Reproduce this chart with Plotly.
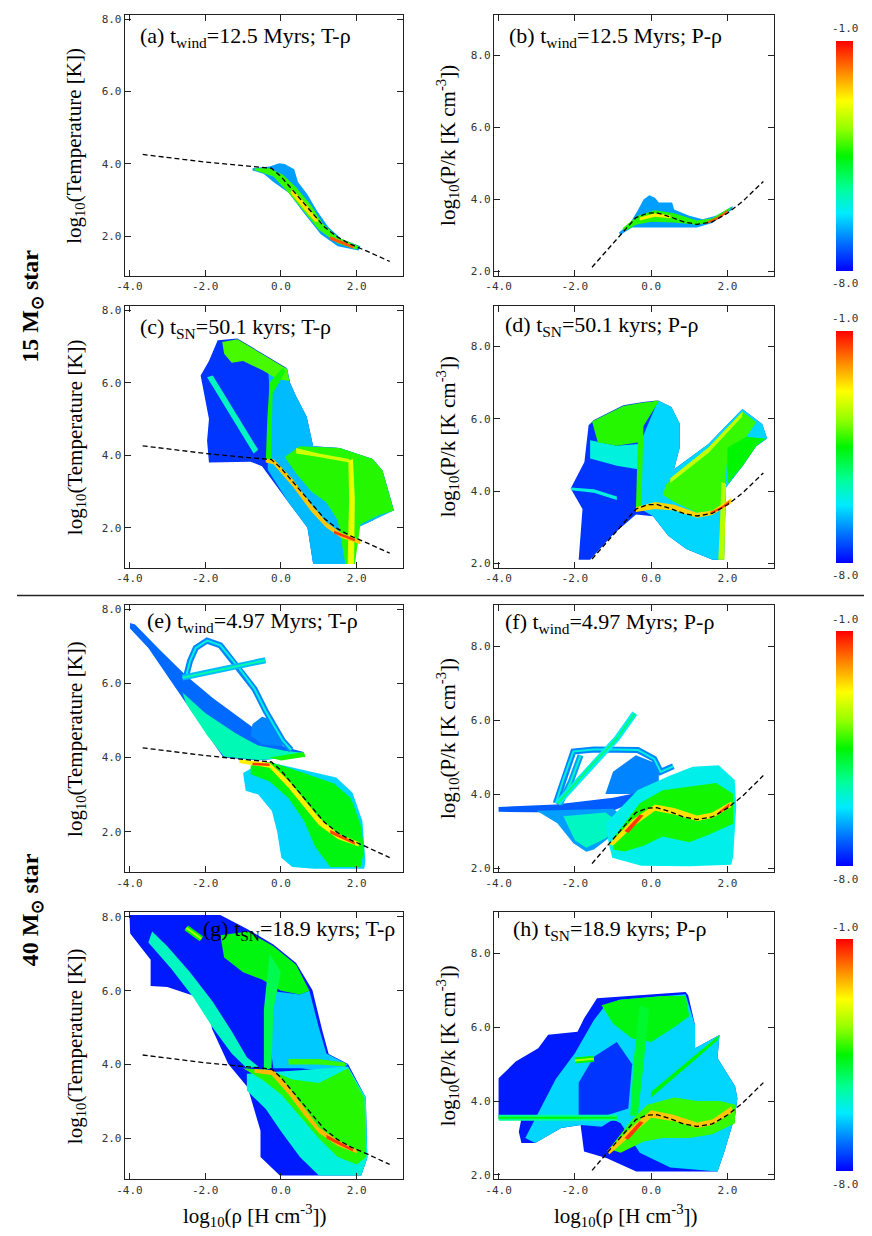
import plotly.graph_objects as go
from plotly.colors import sample_colorscale

# colour table of the density maps (log10 of mass fraction)
JET = [[0.0, 'rgb(0,0,255)'], [0.12, 'rgb(0,110,255)'], [0.25, 'rgb(0,235,255)'],
       [0.36, 'rgb(0,255,150)'], [0.5, 'rgb(0,245,0)'], [0.62, 'rgb(150,255,0)'],
       [0.74, 'rgb(255,255,0)'], [0.87, 'rgb(255,130,0)'], [1.0, 'rgb(255,0,0)']]
CMIN, CMAX = -8.0, -1.0

# equilibrium curves (dashed)
EQ_T_RHO = [-3.65, -2.0, -1.0, -0.25, 0.0, 0.25, 0.65, 1.15, 1.5, 1.85, 2.3, 2.87]
EQ_T = [4.26, 4.05, 3.95, 3.88, 3.65, 3.35, 2.85, 2.25, 1.97, 1.77, 1.57, 1.3]
EQ_P_RHO = [-1.55, -1.1, -0.7, -0.4, -0.1, 0.15, 0.5, 0.85, 1.2, 1.6, 2.0, 2.4, 2.94]
EQ_P = [2.12, 2.67, 3.15, 3.5, 3.62, 3.63, 3.52, 3.38, 3.31, 3.38, 3.62, 3.95, 4.5]

X_TICKS = [-4, -2, 0, 2]
X_TICK_TEXT = ['-4.0', '-2.0', '0.0', '2.0']
Y_TICKS = [2, 4, 6, 8]
Y_TICK_TEXT = ['2.0', '4.0', '6.0', '8.0']

PANEL_TITLES = [
    '(a) t<sub>wind</sub>=12.5 Myrs; T-ρ', '(b) t<sub>wind</sub>=12.5 Myrs; P-ρ',
    '(c) t<sub>SN</sub>=50.1 kyrs; T-ρ', '(d) t<sub>SN</sub>=50.1 kyrs; P-ρ',
    '(e) t<sub>wind</sub>=4.97 Myrs; T-ρ', '(f) t<sub>wind</sub>=4.97 Myrs; P-ρ',
    '(g) t<sub>SN</sub>=18.9 kyrs; T-ρ', '(h) t<sub>SN</sub>=18.9 kyrs; P-ρ',
]
STAR_LABELS = ['15 M<sub>⊙</sub> star', '40 M<sub>⊙</sub> star']
CBAR_LABELS = ['-1.0', '-8.0']
T_TITLE = 'log<sub>10</sub>(Temperature [K])'
P_TITLE = 'log<sub>10</sub>(P/k [K cm<sup>-3</sup>])'
RHO_TITLE = 'log<sub>10</sub>(ρ [H cm<sup>-3</sup>])'

# regions of the phase diagrams: (log10 mass fraction, outline [(log rho, log T or log P)])
REGIONS_A = [
    (-6.8, [(-0.75, 3.88), (-0.3, 3.93), (-0.05, 4.02), (0.1, 4.0), (0.35, 3.85), (0.45, 3.5),
            (0.7, 3.15), (0.95, 2.7), (1.25, 2.25), (1.6, 1.92), (2.1, 1.72), (2.05, 1.6),
            (1.5, 1.72), (1.05, 2.05), (0.6, 2.65), (0.2, 3.2), (-0.2, 3.5), (-0.45, 3.72),
            (-0.75, 3.82)]),
    (-4.2, [(-0.7, 3.88), (-0.3, 3.88), (0.05, 3.7), (0.4, 3.35), (0.8, 2.85), (1.1, 2.35),
            (1.5, 1.97), (2.05, 1.72), (2.0, 1.63), (1.5, 1.8), (1.0, 2.18), (0.6, 2.7),
            (0.2, 3.2), (-0.2, 3.65), (-0.7, 3.83)]),
    (-2.6, [(0.3, 3.3), (0.7, 2.85), (1.0, 2.4), (0.9, 2.4), (0.6, 2.75), (0.25, 3.2)]),
    (-1.6, [(1.3, 2.0), (1.9, 1.74), (1.9, 1.66), (1.3, 1.9)]),
]
REGIONS_B = [
    (-6.8, [(-0.85, 3.08), (-0.55, 3.35), (-0.35, 3.7), (-0.2, 4.0), (-0.05, 4.12), (0.1, 4.05),
            (0.2, 3.92), (0.55, 3.92), (0.6, 3.72), (1.0, 3.55), (1.35, 3.45), (1.7, 3.55),
            (2.15, 3.82), (2.1, 3.7), (1.6, 3.35), (1.2, 3.22), (0.6, 3.22), (0.0, 3.22),
            (-0.5, 3.22), (-0.8, 3.02)]),
    (-4.3, [(-0.75, 3.2), (-0.35, 3.55), (0.1, 3.7), (0.6, 3.62), (1.2, 3.42), (1.6, 3.48),
            (2.1, 3.8), (2.05, 3.7), (1.6, 3.38), (1.2, 3.3), (0.6, 3.36), (0.0, 3.38),
            (-0.4, 3.3), (-0.7, 3.12)]),
    (-2.7, [(-0.3, 3.5), (0.1, 3.62), (0.5, 3.56), (0.5, 3.48), (0.1, 3.52), (-0.3, 3.42)]),
    (-1.6, [(1.45, 3.38), (1.75, 3.52), (2.02, 3.72), (2.0, 3.63), (1.72, 3.44), (1.45, 3.32)]),
]
REGIONS_C = [
    (-7.6, [(-2.12, 6.2), (-1.9, 6.6), (-1.67, 7.17), (-1.15, 7.22), (-0.4, 6.75), (0.16, 6.4),
            (0.24, 6.0), (0.39, 5.65), (0.68, 5.06), (0.81, 4.5), (0.85, 4.25), (1.55, 4.2),
            (2.42, 3.9), (2.68, 3.58), (2.98, 2.48), (2.7, 2.4), (2.42, 2.2), (2.0, 2.0),
            (1.95, 1.0), (0.85, 1.0), (0.7, 2.0), (0.2, 2.7), (-0.5, 3.7), (-0.8, 3.82),
            (-1.9, 3.8), (-1.95, 4.4), (-1.9, 5.0)]),
    (-6.6, [(-0.35, 3.85), (-0.28, 5.5), (-0.35, 6.5), (0.16, 6.4), (0.24, 6.0), (0.39, 5.65),
            (0.68, 5.06), (0.81, 4.5), (0.85, 4.25), (1.55, 4.2), (2.42, 3.9), (2.68, 3.58),
            (2.98, 2.48), (2.42, 2.2), (2.0, 2.0), (1.95, 1.0), (0.85, 1.0), (0.7, 2.0),
            (0.2, 2.7), (-0.35, 3.6)]),
    (-5.8, [(-1.95, 6.15), (-1.8, 6.2), (-0.6, 4.15), (-0.72, 4.05)]),
    (-4.1, [(-1.55, 7.12), (-1.15, 7.2), (-0.4, 6.73), (0.16, 6.38), (0.22, 6.05), (-0.1, 6.1),
            (-0.5, 6.35), (-1.0, 6.6), (-1.3, 6.55), (-1.5, 6.8)]),
    (-4.3, [(0.1, 3.95), (0.5, 4.25), (1.55, 4.2), (2.42, 3.9), (2.68, 3.58), (2.98, 2.48),
            (2.6, 2.35), (2.1, 2.1), (1.95, 1.0), (1.7, 1.0), (1.5, 2.2), (1.2, 2.7), (0.8, 3.0),
            (0.4, 3.5)]),
    (-4.4, [(-0.4, 3.85), (-0.26, 3.88), (-0.22, 5.7), (0.12, 6.3), (0.05, 6.42), (-0.3, 6.0),
            (-0.36, 5.0)]),
    (-3.2, [(0.4, 4.2), (1.0, 4.05), (1.8, 3.9), (1.8, 3.8), (1.0, 3.95), (0.4, 4.05)]),
    (-3.0, [(1.76, 1.0), (1.93, 1.0), (1.95, 2.8), (1.9, 3.9), (1.78, 3.85), (1.8, 2.8)]),
    (-2.4, [(-0.4, 3.9), (-0.2, 3.9), (0.3, 3.35), (0.8, 2.65), (1.2, 2.15), (1.6, 1.85),
            (2.1, 1.66), (2.1, 1.55), (1.6, 1.72), (1.2, 2.0), (0.8, 2.45), (0.3, 3.15),
            (-0.2, 3.75), (-0.4, 3.8)]),
    (-1.4, [(1.4, 1.92), (1.95, 1.7), (1.95, 1.63), (1.4, 1.84)]),
]
REGIONS_D = [
    (-7.6, [(-2.11, 4.07), (-1.75, 4.8), (-1.64, 5.82), (-1.5, 5.96), (-0.73, 6.37), (-0.21, 6.46),
            (0.18, 6.5), (0.53, 6.32), (0.75, 5.86), (0.75, 5.2), (0.6, 4.6), (1.5, 5.3),
            (2.39, 6.27), (2.91, 5.85), (3.04, 5.45), (2.75, 5.24), (2.4, 4.7), (1.96, 4.1),
            (1.91, 2.1), (1.61, 2.1), (0.92, 2.4), (0.44, 2.77), (0.05, 3.3), (-0.4, 3.35),
            (-1.0, 2.8), (-1.6, 2.1), (-1.9, 2.1), (-1.8, 3.5)]),
    (-6.4, [(-0.35, 3.55), (-0.3, 5.3), (0.18, 6.5), (0.53, 6.32), (0.75, 5.86), (0.75, 5.2),
            (0.6, 4.6), (1.5, 5.3), (2.39, 6.27), (2.91, 5.85), (3.04, 5.45), (2.75, 5.24),
            (2.4, 4.7), (1.96, 4.1), (1.91, 2.1), (1.61, 2.1), (0.92, 2.4), (0.44, 2.77),
            (0.05, 3.3)]),
    (-6.0, [(-2.11, 4.1), (-1.5, 4.05), (-0.9, 3.85), (-0.9, 3.75), (-1.5, 3.95), (-2.1, 4.02)]),
    (-6.0, [(-1.6, 5.4), (-0.9, 5.25), (-0.32, 5.3), (-0.35, 4.6), (-0.9, 4.7), (-1.6, 4.9)]),
    (-4.3, [(-1.55, 5.92), (-0.73, 6.35), (-0.21, 6.45), (0.15, 6.48), (-0.22, 5.95),
            (-0.32, 5.35), (-0.9, 5.25), (-1.4, 5.35)]),
    (-4.2, [(0.4, 4.2), (1.5, 5.2), (2.39, 6.2), (2.75, 5.9), (2.5, 5.5), (2.0, 4.9), (1.93, 4.2),
            (1.9, 3.5), (1.2, 3.4), (0.6, 3.7), (0.3, 3.9)]),
    (-4.5, [(2.0, 5.2), (2.5, 5.5), (3.0, 5.45), (2.75, 5.24), (2.4, 4.7), (2.0, 4.2)]),
    (-4.3, [(-0.4, 3.5), (-0.26, 3.5), (-0.2, 5.8), (0.2, 6.48), (0.08, 6.5), (-0.34, 5.8)]),
    (-3.4, [(1.76, 2.1), (1.92, 2.1), (1.96, 4.2), (1.84, 4.25), (1.8, 3.0)]),
    (-3.3, [(0.5, 4.35), (1.5, 5.2), (2.4, 6.2), (2.38, 6.05), (1.5, 5.05), (0.5, 4.22)]),
    (-2.5, [(-0.4, 3.55), (0.1, 3.7), (0.6, 3.62), (1.2, 3.4), (1.6, 3.46), (2.1, 3.8),
            (2.1, 3.66), (1.6, 3.34), (1.2, 3.26), (0.6, 3.46), (0.1, 3.5), (-0.4, 3.42)]),
    (-1.5, [(1.55, 3.42), (1.85, 3.57), (2.05, 3.74), (2.05, 3.66), (1.85, 3.5), (1.55, 3.36)]),
]
REGIONS_E = [
    (-7.2, [(-3.98, 7.62), (-3.85, 7.58), (-3.2, 6.9), (-2.5, 6.2), (-1.8, 5.6), (-1.0, 5.0),
            (-0.4, 4.55), (0.1, 4.28), (0.6, 4.15), (0.62, 4.02), (0.0, 3.98), (-0.6, 3.92),
            (-1.52, 4.0), (-1.95, 4.63), (-2.8, 5.89), (-3.5, 6.95), (-3.99, 7.48)]),
    (-5.7, [(-2.6, 5.75), (-2.0, 5.2), (-1.2, 4.65), (-0.6, 4.32), (0.1, 4.18), (0.6, 4.12),
            (0.6, 4.02), (-0.6, 3.93), (-1.5, 4.02), (-1.95, 4.6), (-2.5, 5.45)]),
    (-7.0, [(-0.75, 4.9), (-0.5, 5.1), (-0.2, 5.0), (0.0, 4.6), (0.05, 4.3), (-0.5, 4.35),
            (-0.8, 4.6)]),
    (-6.4, [(-1.0, 3.58), (-0.5, 3.87), (-0.3, 3.87), (0.2, 3.75), (0.8, 3.6), (1.46, 3.46),
            (1.89, 3.05), (2.15, 2.29), (2.23, 1.21), (2.2, 1.0), (0.87, 1.0), (0.3, 1.05),
            (0.01, 1.3), (-0.1, 2.0), (-0.24, 2.56), (-0.6, 3.0), (-0.93, 3.1)]),
    (-4.6, [(-0.8, 3.78), (-0.3, 3.88), (0.2, 3.72), (0.8, 3.5), (1.4, 3.3), (1.85, 2.9),
            (2.1, 2.2), (2.2, 1.5), (2.1, 1.05), (1.3, 1.05), (0.9, 1.6), (0.6, 2.3), (0.2, 2.9),
            (-0.3, 3.35), (-0.8, 3.55)]),
    (-4.4, [(-0.3, 4.0), (0.6, 4.15), (0.65, 4.02), (0.0, 3.92)]),
    (-2.7, [(-1.1, 3.95), (-0.3, 3.86), (0.2, 3.38), (0.6, 2.88), (1.0, 2.38), (1.5, 1.95),
            (2.05, 1.72), (2.05, 1.6), (1.5, 1.8), (1.0, 2.18), (0.6, 2.68), (0.2, 3.18),
            (-0.3, 3.72), (-1.1, 3.85)]),
    (-1.4, [(-0.75, 3.86), (-0.3, 3.84), (-0.3, 3.77), (-0.75, 3.79)]),
    (-1.5, [(1.3, 2.05), (1.95, 1.72), (1.95, 1.65), (1.3, 1.95)]),
]
REGIONS_F = [
    (-7.3, [(-4.0, 3.65), (-2.5, 3.72), (-1.0, 3.9), (-0.3, 4.05), (-0.3, 3.85), (-1.0, 3.55),
            (-2.5, 3.5), (-4.0, 3.52)]),
    (-6.8, [(-3.0, 3.55), (-1.0, 3.6), (-0.6, 3.3), (-1.0, 2.9), (-1.5, 2.5), (-1.7, 2.44),
            (-2.04, 2.67), (-2.46, 3.21)]),
    (-7.0, [(-1.2, 4.0), (-1.0, 4.6), (-0.4, 5.05), (0.2, 4.8), (0.2, 4.2), (-0.3, 4.0)]),
    (-5.8, [(-2.3, 3.4), (-1.2, 3.5), (-0.8, 3.2), (-1.2, 2.8), (-1.7, 2.55), (-2.0, 2.75)]),
    (-6.1, [(-1.2, 3.2), (-0.35, 4.11), (0.5, 4.5), (1.09, 4.74), (1.77, 4.78), (2.19, 4.38),
            (2.23, 3.66), (2.15, 2.31), (2.1, 2.09), (1.0, 2.05), (-0.26, 2.06), (-1.02, 2.28),
            (-1.1, 2.6)]),
    (-4.4, [(-1.0, 2.8), (-0.3, 3.75), (0.3, 4.1), (1.0, 4.2), (1.7, 4.3), (2.15, 4.0),
            (2.15, 3.2), (1.5, 2.9), (1.0, 2.7), (0.3, 2.85), (-0.2, 2.6), (-0.7, 2.45),
            (-1.0, 2.5)]),
    (-2.6, [(-1.1, 2.65), (-0.5, 3.3), (0.1, 3.72), (0.6, 3.62), (1.2, 3.42), (1.6, 3.5),
            (2.1, 3.8), (2.1, 3.65), (1.6, 3.35), (1.2, 3.27), (0.6, 3.45), (0.1, 3.55),
            (-0.5, 3.1), (-1.0, 2.6)]),
    (-1.4, [(-0.7, 3.0), (-0.3, 3.45), (-0.2, 3.42), (-0.6, 2.95)]),
    (-1.5, [(1.75, 3.5), (2.05, 3.75), (2.05, 3.66), (1.75, 3.43)]),
]
REGIONS_G = [
    (-7.8, [(-4.0, 8.05), (-1.6, 8.05), (-0.88, 7.66), (-0.2, 7.25), (0.4, 6.75), (0.83, 6.02),
            (1.09, 4.93), (1.26, 4.29), (1.77, 4.02), (2.24, 3.11), (2.28, 1.48), (2.12, 1.0),
            (-0.03, 1.0), (-0.54, 1.5), (-0.54, 2.21), (-0.88, 3.39), (-1.39, 4.02),
            (-1.82, 4.97), (-1.9, 5.49), (-2.25, 5.84), (-3.0, 6.1), (-3.44, 6.13),
            (-3.44, 6.84), (-3.98, 7.55)]),
    (-5.8, [(-3.4, 7.6), (-3.0, 7.2), (-2.4, 6.5), (-1.8, 5.7), (-1.3, 4.9), (-0.9, 4.2),
            (-0.6, 3.95), (-0.9, 3.9), (-1.3, 4.3), (-1.8, 5.0), (-2.3, 5.8), (-2.9, 6.6),
            (-3.5, 7.3)]),
    (-6.5, [(-0.3, 6.0), (0.5, 5.9), (0.75, 6.0), (1.0, 5.0), (1.2, 4.3), (1.77, 4.0),
            (1.5, 3.8), (0.5, 3.9), (-0.2, 3.9), (-0.35, 5.0)]),
    (-4.6, [(-1.6, 7.5), (-0.88, 7.6), (-0.2, 7.2), (0.4, 6.7), (0.75, 6.0), (0.5, 5.9),
            (0.0, 6.0), (-0.5, 6.3), (-1.0, 6.5), (-1.5, 6.9)]),
    (-5.0, [(-0.45, 3.85), (-0.25, 3.9), (-0.2, 5.5), (0.0, 6.5), (-0.3, 7.0), (-0.45, 5.5)]),
    (-6.0, [(-0.9, 3.75), (-0.3, 3.8), (0.5, 3.85), (1.77, 3.95), (2.24, 3.11), (2.28, 1.48),
            (2.12, 1.0), (1.0, 1.0), (0.5, 1.5), (0.0, 2.2), (-0.4, 2.8), (-0.9, 3.3)]),
    (-4.3, [(-1.0, 3.9), (-0.3, 3.85), (0.3, 3.6), (1.0, 3.5), (1.77, 3.9), (2.2, 3.1),
            (2.25, 1.5), (2.0, 1.3), (1.5, 1.5), (1.0, 2.0), (0.5, 2.6), (0.0, 3.2), (-0.5, 3.6)]),
    (-4.2, [(0.2, 4.15), (1.0, 4.15), (1.7, 4.05), (1.7, 3.95), (1.0, 4.0), (0.2, 4.0)]),
    (-2.3, [(-0.7, 3.88), (-0.2, 3.85), (0.2, 3.4), (0.6, 2.85), (1.0, 2.3), (1.5, 1.95),
            (2.0, 1.7), (2.0, 1.6), (1.5, 1.8), (1.0, 2.15), (0.6, 2.65), (0.2, 3.2),
            (-0.25, 3.72), (-0.7, 3.78)]),
    (-1.4, [(1.2, 2.1), (1.9, 1.72), (1.9, 1.65), (1.2, 2.0)]),
]
REGIONS_H = [
    (-7.8, [(-4.0, 4.62), (-3.55, 5.07), (-2.96, 5.43), (-2.7, 5.8), (-1.93, 5.88), (-1.76, 6.24),
            (-1.42, 6.79), (-0.82, 6.83), (0.9, 6.96), (0.97, 6.87), (1.15, 6.06), (1.15, 5.43),
            (1.79, 5.79), (1.74, 5.16), (2.2, 4.4), (2.26, 4.07), (2.2, 3.6), (1.92, 2.63),
            (1.74, 2.09), (-0.39, 2.09), (-1.16, 2.45), (-1.76, 2.63), (-1.85, 3.35),
            (-2.36, 3.27), (-3.04, 2.86), (-3.4, 2.86), (-3.47, 3.17), (-3.4, 3.53),
            (-4.0, 3.53)]),
    (-6.4, [(-3.3, 3.0), (-2.5, 4.6), (-2.0, 5.3), (-1.5, 6.2), (-1.2, 6.6), (-0.82, 6.75),
            (0.9, 6.9), (1.15, 6.06), (1.15, 5.43), (1.79, 5.79), (1.74, 5.16), (2.2, 4.4),
            (2.26, 4.07), (2.2, 3.6), (1.92, 2.63), (1.74, 2.09), (0.5, 2.2), (-0.3, 2.6),
            (-0.8, 3.4), (-1.0, 3.5), (-1.3, 3.3), (-1.85, 3.35), (-2.36, 3.27), (-3.04, 2.86)]),
    (-7.6, [(-1.9, 3.6), (-1.2, 3.6), (-0.6, 3.8), (-0.5, 5.0), (-0.9, 5.6), (-1.5, 5.2),
            (-1.9, 4.5)]),
    (-4.6, [(-1.3, 6.6), (-0.82, 6.75), (0.3, 6.85), (0.9, 6.85), (1.0, 6.3), (0.6, 6.0),
            (0.0, 5.6), (-0.5, 5.7), (-1.0, 6.1)]),
    (-4.8, [(-0.55, 3.6), (-0.35, 3.6), (-0.2, 5.0), (-0.05, 6.5), (-0.3, 6.6), (-0.45, 5.2)]),
    (-4.5, [(0.0, 4.25), (1.79, 5.79), (1.74, 5.65), (0.0, 4.1)]),
    (-4.2, [(-1.1, 2.7), (-0.5, 3.5), (-0.1, 3.9), (0.6, 4.1), (1.2, 4.0), (1.8, 4.0),
            (2.2, 3.9), (2.2, 3.4), (1.6, 3.1), (1.0, 3.0), (0.3, 3.0), (-0.2, 2.9), (-0.8, 2.6)]),
    (-2.4, [(-1.15, 2.65), (-0.5, 3.3), (0.0, 3.75), (0.6, 3.62), (1.2, 3.42), (1.6, 3.5),
            (2.1, 3.85), (2.15, 3.7), (1.6, 3.35), (1.2, 3.27), (0.6, 3.45), (0.0, 3.55),
            (-0.5, 3.1), (-1.1, 2.55)]),
    (-1.4, [(-0.7, 3.0), (-0.3, 3.45), (-0.2, 3.42), (-0.6, 2.95)]),
]

# thin streaks (level, path)
STREAKS_E = [
    (-7.0, [(-2.5, 6.2), (-2.4, 6.6), (-2.25, 6.95), (-1.95, 7.15), (-1.6, 7.02), (-1.1, 6.4),
            (-0.7, 5.85), (-0.41, 5.26), (-0.15, 4.8), (0.05, 4.45), (0.27, 4.2)]),
    (-6.6, [(-2.6, 6.15), (-1.5, 6.38), (-0.41, 6.62)]),
]
STREAKS_F = [
    (-7.0, [(-2.5, 3.75), (-2.3, 4.4), (-2.04, 5.15), (-1.5, 5.2), (-0.9, 5.2), (-0.35, 5.19),
            (-0.1, 5.05), (0.08, 4.95), (0.25, 4.6), (0.58, 4.75)]),
    (-6.8, [(-2.4, 3.72), (-2.1, 4.35), (-1.85, 5.05)]),
    (-6.2, [(-2.45, 3.75), (-1.5, 4.85), (-0.9, 5.5), (-0.43, 6.18)]),
]
STREAKS_G = [
    (-4.5, [(-2.5, 7.7), (-2.1, 7.4)]),
]
STREAKS_H = [
    (-5.5, [(-4.0, 3.55), (-0.9, 3.55)]),
    (-4.5, [(-2.0, 5.1), (-1.5, 5.15)]),
]

# the page puts an 8 px body margin round the figure: positions below are page pixels
PAGE_W, PAGE_H, BODY = 872, 1236, 8
W, H = PAGE_W - BODY, PAGE_H - BODY
COL_X = [(117, 398), (490, 773)]
ROW_Y = [(13, 275), (305, 568), (605, 874), (914, 1182)]
CBAR_Y = [(39, 270), (330, 563), (632, 868), (941, 1174)]
X_RANGE = [-4.12, 3.22]
Y_RANGE = {'T': [0.9, 8.12], 'P': [1.88, 9.12]}
SERIF = 'Liberation Serif, Times New Roman, serif'
MONO = 'DejaVu Sans Mono'


def px(x):
    return (x - BODY) / W


def py(y):
    return 1 - (y - BODY) / H


def level_color(v):
    return sample_colorscale(JET, [(v - CMIN) / (CMAX - CMIN)])[0]


def note(x, y, text, size, font=SERIF, angle=0, anchor='center', color='black'):
    return dict(x=px(x), y=py(y), xref='paper', yref='paper', text=text, textangle=angle,
                xanchor=anchor, yanchor='middle', showarrow=False,
                font=dict(family=font, size=size, color=color))


panels = [
    (REGIONS_A, [], 'T'), (REGIONS_B, [], 'P'),
    (REGIONS_C, [], 'T'), (REGIONS_D, [], 'P'),
    (REGIONS_E, STREAKS_E, 'T'), (REGIONS_F, STREAKS_F, 'P'),
    (REGIONS_G, STREAKS_G, 'T'), (REGIONS_H, STREAKS_H, 'P'),
]

fig = go.Figure()
layout = {}
annotations = []
for i, (regions, streaks, kind) in enumerate(panels):
    n = i + 1
    row, col = i // 2, i % 2
    xref = 'x' if n == 1 else f'x{n}'
    yref = 'y' if n == 1 else f'y{n}'
    for level, pts in regions:
        fig.add_trace(go.Scatter(
            x=[p[0] for p in pts], y=[p[1] for p in pts], mode='lines', fill='toself',
            fillcolor=level_color(level), line=dict(width=0, color=level_color(level)),
            hoverinfo='skip', xaxis=xref, yaxis=yref))
    for level, pts in streaks:
        for lw, dl in ((6, 0.0), (2, 1.0)):
            fig.add_trace(go.Scatter(
                x=[p[0] for p in pts], y=[p[1] for p in pts], mode='lines',
                line=dict(width=lw, color=level_color(level + dl)),
                hoverinfo='skip', xaxis=xref, yaxis=yref))
    if kind == 'T':
        fig.add_trace(go.Scatter(x=EQ_T_RHO, y=EQ_T, mode='lines', xaxis=xref, yaxis=yref,
                                 line=dict(color='black', width=1.3, dash='5px,3px')))
    else:
        fig.add_trace(go.Scatter(x=EQ_P_RHO, y=EQ_P, mode='lines', xaxis=xref, yaxis=yref,
                                 line=dict(color='black', width=1.3, dash='5px,3px')))
        # invisible markers carrying the levels, they feed the row colour bar
        cax = 'coloraxis' if row == 0 else f'coloraxis{row + 1}'
        fig.add_trace(go.Scatter(
            x=[pts[0][0] for _, pts in regions], y=[pts[0][1] for _, pts in regions],
            mode='markers', hoverinfo='skip', xaxis=xref, yaxis=yref,
            marker=dict(size=1, opacity=0, color=[lv for lv, _ in regions], coloraxis=cax)))
        top, bot = CBAR_Y[row]
        layout[cax] = dict(
            cmin=CMIN, cmax=CMAX, colorscale=JET,
            colorbar=dict(x=px(836), xanchor='left', y=py((top + bot) / 2), yanchor='middle',
                          len=(bot - top) / H, lenmode='fraction', thickness=17,
                          thicknessmode='pixels', outlinewidth=0, showticklabels=False,
                          ticks='', xpad=0, ypad=0))
        annotations.append(note(845, top - 12, CBAR_LABELS[0], 11, MONO, color='#333'))
        annotations.append(note(845, bot + 13, CBAR_LABELS[1], 11, MONO, color='#333'))

    x0, x1 = COL_X[col]
    y0, y1 = ROW_Y[row]
    axis_common = dict(showgrid=False, zeroline=False, showline=True, linecolor='#222',
                       linewidth=1.3, mirror='ticks', ticks='inside', ticklen=6, tickwidth=1.2,
                       tickcolor='#222', tickfont=dict(family=MONO, size=11, color='#333'))
    layout['xaxis' if n == 1 else f'xaxis{n}'] = dict(
        domain=[px(x0), px(x1)], range=X_RANGE, anchor=yref, tickvals=X_TICKS,
        ticktext=X_TICK_TEXT, **axis_common)
    layout['yaxis' if n == 1 else f'yaxis{n}'] = dict(
        domain=[py(y1), py(y0)], range=Y_RANGE[kind], anchor=xref, tickvals=Y_TICKS,
        ticktext=Y_TICK_TEXT, **axis_common)

    annotations.append(note(67 if col == 0 else 443, (y0 + y1) / 2,
                            T_TITLE if kind == 'T' else P_TITLE, 21, angle=-90))

# panel titles
title_pos = [(130, 35, 'left'), (503, 35, 'left'), (130, 327, 'left'), (499, 325, 'left'),
             (137, 623, 'left'), (499, 624, 'left'), (392, 932, 'right'), (507, 932, 'left')]
for (tx, ty, anchor), txt in zip(title_pos, PANEL_TITLES):
    annotations.append(note(tx, ty, txt, 22, anchor=anchor))

for xc in (248, 623):
    annotations.append(note(xc, 1218, RHO_TITLE, 21))

for yc, txt in zip((305, 911), STAR_LABELS):
    annotations.append(note(23, yc, f'<b>{txt}</b>', 24, angle=-90))

fig.update_layout(
    width=W, height=H, margin=dict(l=0, r=0, t=0, b=0), showlegend=False,
    plot_bgcolor='white', paper_bgcolor='white', annotations=annotations,
    shapes=[dict(type='line', xref='paper', yref='paper', x0=0, x1=1, y0=py(596), y1=py(596),
                 line=dict(color='#222', width=1.5))],
    **layout)

fig.write_html("out.html")
